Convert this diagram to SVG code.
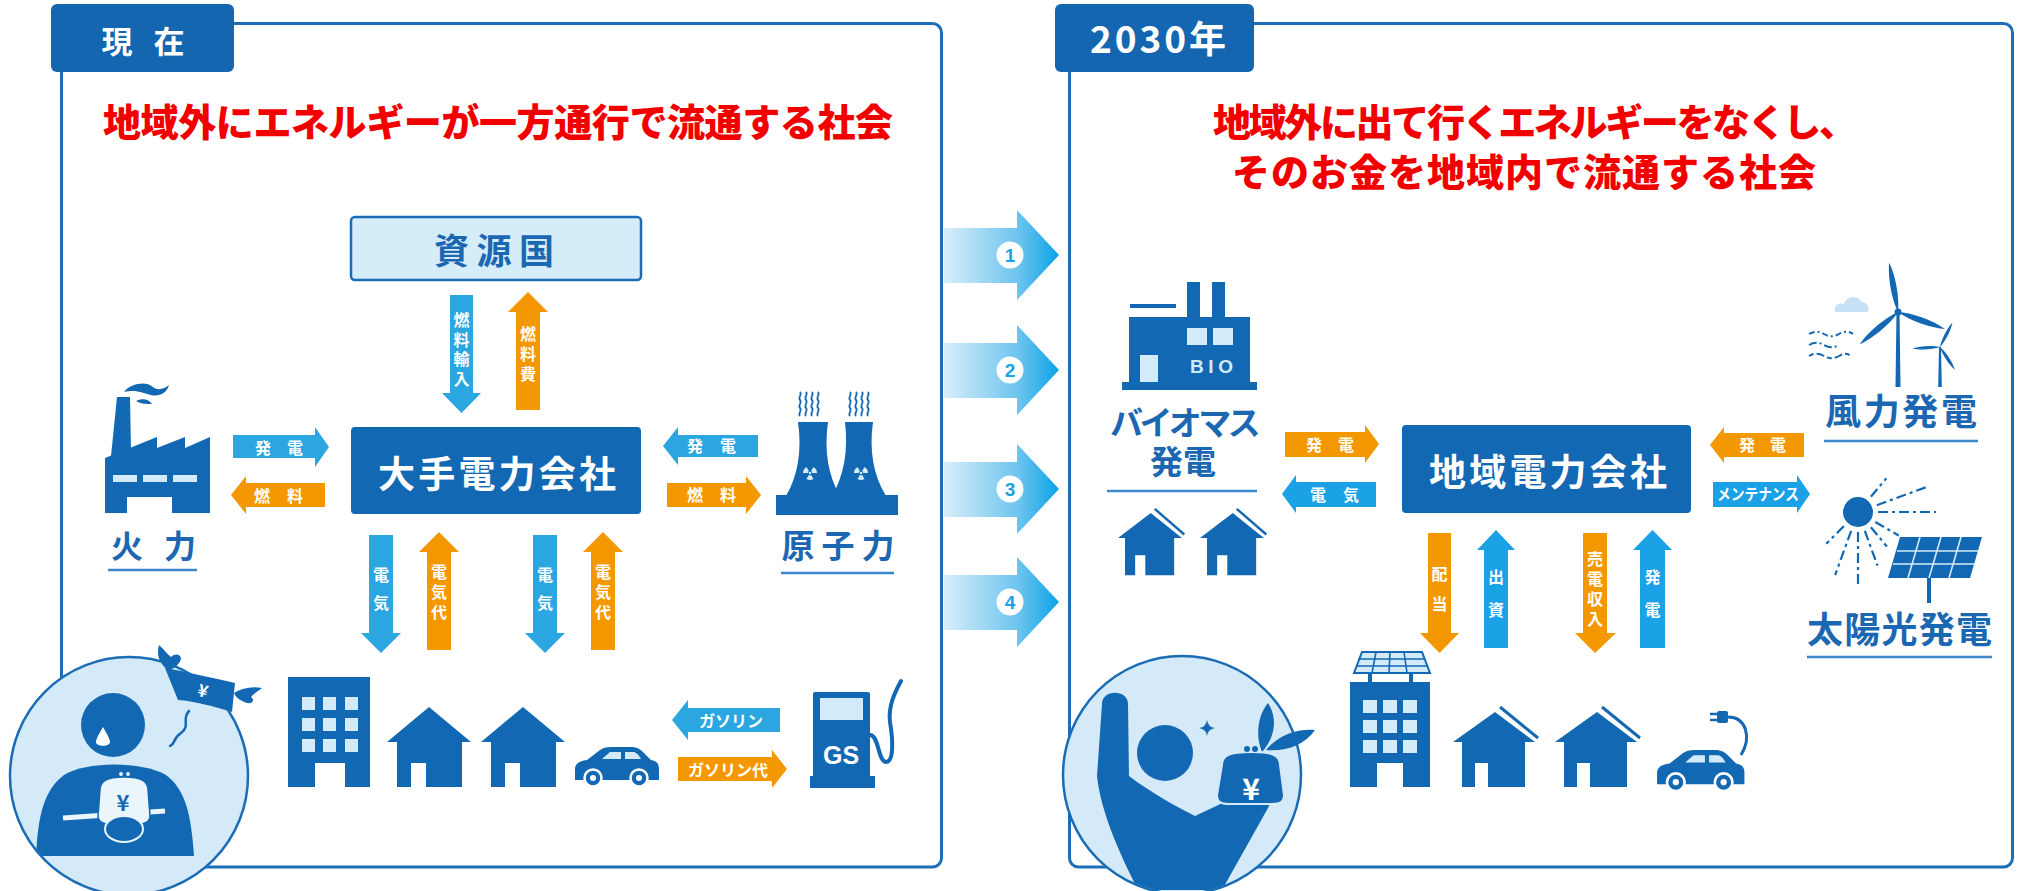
<svg xmlns="http://www.w3.org/2000/svg" xmlns:xlink="http://www.w3.org/1999/xlink" width="2022" height="891" viewBox="0 0 2022 891">
<defs>
<style>
.dk{fill:#1368b3}
.lt{fill:#d3eaf8}
.ab{fill:#2ba6e1}
.ab2{fill:#1aa1e6}
.ao{fill:#f39800}
.wt{fill:#fff;font-family:"Noto Sans CJK JP",sans-serif;font-weight:700;font-size:16px}
.vt{writing-mode:vertical-rl}
.lbl{fill:#1b67b2;font-family:"Noto Sans CJK JP",sans-serif;font-weight:700}
.box{fill:#fff;font-family:"Noto Sans CJK JP",sans-serif;font-weight:700}
.ttl{fill:#f20000;font-family:"Noto Sans CJK JP",sans-serif;font-weight:900;font-size:38px}
.ul{stroke:#3a87c9;stroke-width:2.5}
.panel{fill:none;stroke:#1d6eb8;stroke-width:3}
.tab{fill:#1466b0}
.ray{stroke:#1368b3;stroke-width:2.2;fill:none;stroke-dasharray:10 4 3 4}
.steam{stroke:#1368b3;stroke-width:1.8;fill:none}
.num{fill:#1aa1e6;font-family:"Liberation Sans",sans-serif;font-weight:700;font-size:19px}
</style>
<linearGradient id="chev" gradientUnits="userSpaceOnUse" x1="944" y1="0" x2="1059" y2="0">
<stop offset="0" stop-color="#d9eefa"/>
<stop offset="0.65" stop-color="#6cc4ee"/>
<stop offset="1" stop-color="#0aa2e8"/>
</linearGradient>
<g id="trefoil" fill="#d3eaf8">
<path d="M-2.2,0 L-7,0 A7,7 0 0 1 -3.5,-6.06 L-1.1,-1.9 A2.2,2.2 0 0 0 -2.2,0 Z"/>
<path d="M1.1,-1.9 L3.5,-6.06 A7,7 0 0 1 7,0 L2.2,0 A2.2,2.2 0 0 0 1.1,-1.9 Z"/>
<path d="M1.1,1.9 L3.5,6.06 A7,7 0 0 1 -3.5,6.06 L-1.1,1.9 A2.2,2.2 0 0 0 1.1,1.9 Z"/>
<circle r="1.3"/>
</g>
<path id="houseA" class="dk" d="M0,35 L42,0 L84,35 H75 V80 H39 V56 H24 V80 H10 V35 Z"/>
<g id="houseB">
<path class="dk" d="M0,30 L42,0 L82,30 H72 V75 H35 V51 H22 V75 H9 V30 Z"/>
<path d="M47,-5 L85,26" stroke="#1368b3" stroke-width="3"/>
</g>
<g id="car">
<path class="dk" d="M2,33 V22 C2,17 6,14 14,13 L27,3 C30,1 33,0 38,0 H58 C64,0 67,2 71,6 L78,13 C84,14 86,17 86,22 V33 Z"/>
<path class="lt" d="M29,12 L37,5 H48 V12 Z M52,5 H60 C63,5 65,7 68,12 H52 Z"/>
<circle class="dk" cx="20" cy="31" r="8.5" stroke="#fff" stroke-width="2.5"/>
<circle class="dk" cx="66" cy="31" r="8.5" stroke="#fff" stroke-width="2.5"/>
<circle fill="#fff" cx="20" cy="31" r="3"/>
<circle fill="#fff" cx="66" cy="31" r="3"/>
</g>
<path id="blade" class="dk" d="M0,0 C-4,-12 -5,-35 -1,-50 C3,-38 4,-15 0,0 Z"/>
<clipPath id="clipR"><circle cx="1182" cy="775" r="118"/></clipPath>
<clipPath id="clipL"><circle cx="129" cy="776" r="118"/></clipPath>
</defs>

<rect width="2022" height="891" fill="#fff"/>

<!-- left panel: current state -->
<g id="panel-now">
<rect class="panel" x="61.5" y="23.5" width="880" height="843.5" rx="9"/>
<rect class="tab" x="51" y="4" width="183" height="68" rx="6"/>
<text class="box" font-size="31"><tspan x="117" y="53" text-anchor="middle">現</tspan><tspan x="169" y="53" text-anchor="middle">在</tspan></text>
<text class="ttl" x="103" y="135.5" textLength="790">地域外にエネルギーが一方通行で流通する社会</text>
</g>

<!-- right panel: 2030 -->
<g id="panel-2030">
<rect class="panel" x="1069.5" y="23.5" width="943" height="843.5" rx="9"/>
<rect class="tab" x="1055" y="4" width="199" height="68" rx="6"/>
<text class="box" font-size="37" x="1090" y="53" textLength="136">2030年</text>
<text class="ttl" x="1213" y="135.5" textLength="644">地域外に出て行くエネルギーをなくし、</text>
<text class="ttl" x="1232" y="185.5" textLength="584">そのお金を地域内で流通する社会</text>
</g>

<!-- numbered steps between panels -->
<g id="steps">
<path fill="url(#chev)" d="M944,228 H1017 V210 L1059,255 L1017,300 V283 H944 Z"/>
<path fill="url(#chev)" d="M944,343 H1017 V325 L1059,370 L1017,415 V398 H944 Z"/>
<path fill="url(#chev)" d="M944,462 H1017 V444 L1059,489 L1017,534 V517 H944 Z"/>
<path fill="url(#chev)" d="M944,575 H1017 V557 L1059,602 L1017,647 V630 H944 Z"/>
<circle cx="1010" cy="255" r="13.5" fill="#fff"/><text class="num" x="1010" y="262" text-anchor="middle">1</text>
<circle cx="1010" cy="370" r="13.5" fill="#fff"/><text class="num" x="1010" y="377" text-anchor="middle">2</text>
<circle cx="1010" cy="489" r="13.5" fill="#fff"/><text class="num" x="1010" y="496" text-anchor="middle">3</text>
<circle cx="1010" cy="602" r="13.5" fill="#fff"/><text class="num" x="1010" y="609" text-anchor="middle">4</text>
</g>

<!-- nodes: left panel -->
<g id="resource-country">
<rect x="351" y="217" width="290" height="63" rx="4" fill="#d5ecf9" stroke="#1a6db5" stroke-width="2.5"/>
<text class="lbl" font-size="35" x="434" y="264" textLength="120">資源国</text>
</g>

<g id="major-utility">
<rect class="dk" x="351" y="427" width="290" height="87" rx="4"/>
<text class="box" font-size="37" x="378" y="488" textLength="238">大手電力会社</text>
</g>

<g id="thermal">
<path class="dk" d="M111,456 L117,397 H130 L131,452 Z"/>
<path class="dk" d="M124,392 C131,383 146,381 153,387 C158,391 164,389 169,385 C167,393 159,397 151,395 C143,393 136,389 124,392 Z"/>
<path class="dk" d="M136,401 C142,398 149,399 152,404 C146,404 141,404 136,401 Z"/>
<path class="dk" d="M105,513 V458 L157,437 V448 L185,437 V448 L210,437 V513 Z"/>
<rect fill="#fff" x="127" y="497" width="45" height="17"/>
<rect class="lt" x="113" y="475" width="24" height="7"/>
<rect class="lt" x="143" y="475" width="24" height="7"/>
<rect class="lt" x="173" y="475" width="24" height="7"/>
<text class="lbl" font-size="32"><tspan x="127" y="558" text-anchor="middle">火</tspan><tspan x="180" y="558" text-anchor="middle">力</tspan></text>
<line class="ul" x1="108" y1="570" x2="197" y2="570"/>
</g>

<g id="nuclear">
<path class="steam" d="M800,416 c-2.5,-2.5 2.5,-5.5 0,-8 s2.5,-5.5 0,-8 s2.5,-5.5 0,-8"/>
<path class="steam" d="M806,416 c-2.5,-2.5 2.5,-5.5 0,-8 s2.5,-5.5 0,-8 s2.5,-5.5 0,-8"/>
<path class="steam" d="M812,416 c-2.5,-2.5 2.5,-5.5 0,-8 s2.5,-5.5 0,-8 s2.5,-5.5 0,-8"/>
<path class="steam" d="M818,416 c-2.5,-2.5 2.5,-5.5 0,-8 s2.5,-5.5 0,-8 s2.5,-5.5 0,-8"/>
<path class="steam" d="M850,416 c-2.5,-2.5 2.5,-5.5 0,-8 s2.5,-5.5 0,-8 s2.5,-5.5 0,-8"/>
<path class="steam" d="M856,416 c-2.5,-2.5 2.5,-5.5 0,-8 s2.5,-5.5 0,-8 s2.5,-5.5 0,-8"/>
<path class="steam" d="M862,416 c-2.5,-2.5 2.5,-5.5 0,-8 s2.5,-5.5 0,-8 s2.5,-5.5 0,-8"/>
<path class="steam" d="M868,416 c-2.5,-2.5 2.5,-5.5 0,-8 s2.5,-5.5 0,-8 s2.5,-5.5 0,-8"/>
<path class="dk" d="M798,422 H828 Q822,465 840,496 H786 Q804,465 798,422 Z"/>
<path class="dk" d="M845,422 H873 Q867,465 886,496 H832 Q850,465 845,422 Z"/>
<rect class="dk" x="776" y="495" width="122" height="20"/>
<use xlink:href="#trefoil" x="810" y="473"/>
<use xlink:href="#trefoil" x="861" y="473"/>
<text class="lbl" font-size="33"><tspan x="798" y="558" text-anchor="middle">原</tspan><tspan x="838" y="558" text-anchor="middle">子</tspan><tspan x="878" y="558" text-anchor="middle">力</tspan></text>
<line class="ul" x1="781" y1="573" x2="894" y2="573"/>
</g>

<g id="consumers-now">
<rect class="dk" x="288" y="677" width="82" height="110"/>
<rect class="lt" x="302" y="697" width="13" height="13"/><rect class="lt" x="323" y="697" width="13" height="13"/><rect class="lt" x="345" y="697" width="13" height="13"/>
<rect class="lt" x="302" y="718" width="13" height="13"/><rect class="lt" x="323" y="718" width="13" height="13"/><rect class="lt" x="345" y="718" width="13" height="13"/>
<rect class="lt" x="302" y="739" width="13" height="13"/><rect class="lt" x="323" y="739" width="13" height="13"/><rect class="lt" x="345" y="739" width="13" height="13"/>
<rect fill="#fff" x="315" y="763" width="30" height="25"/>
<use xlink:href="#houseA" transform="translate(387,707)"/>
<use xlink:href="#houseA" transform="translate(481,707)"/>
<use xlink:href="#car" transform="translate(573,747)"/>
</g>

<g id="gas-station">
<rect class="dk" x="813" y="692" width="57" height="86" rx="2"/>
<rect class="dk" x="810" y="776" width="65" height="12"/>
<rect class="lt" x="820" y="698" width="43" height="22"/>
<text fill="#fff" font-family="Liberation Sans, sans-serif" font-weight="700" font-size="25" x="841" y="764" text-anchor="middle">GS</text>
<path d="M870,735 C879,735 878,762 886,762 C894,762 893,740 890,722 C888,706 895,692 901,681" fill="none" stroke="#1368b3" stroke-width="4" stroke-linecap="round"/>
</g>

<g id="household-now">
<circle cx="129" cy="776" r="119" fill="#d4eaf8" stroke="#1a6db5" stroke-width="2.5"/>
<g clip-path="url(#clipL)">
<path class="dk" d="M36,856 C38,815 44,790 64,775 C86,761 142,761 166,775 C186,790 191,815 194,856 Z"/>
</g>
<circle class="dk" cx="113" cy="725" r="32"/>
<path fill="#fff" d="M103,727 C99,734 96,739 96,742 C96,747 110,747 110,742 C110,739 107,734 103,727 Z"/>
<line x1="63" y1="818" x2="165" y2="811" stroke="#eaf5fc" stroke-width="5"/>
<path fill="#eaf5fc" stroke="#1368b3" stroke-width="1.5" d="M100,790 C100,781 107,777 124,777 C141,777 148,781 148,790 L150,816 C150,822 146,824 139,824 H109 C102,824 98,822 98,816 Z"/>
<circle fill="#eaf5fc" stroke="#1368b3" stroke-width="1.2" cx="121" cy="774" r="2.5"/>
<circle fill="#eaf5fc" stroke="#1368b3" stroke-width="1.2" cx="128" cy="774" r="2.5"/>
<text class="lbl" font-size="22" x="123" y="811" text-anchor="middle" fill="#1368b3">¥</text>
<ellipse class="dk" cx="124" cy="829" rx="19" ry="13" stroke="#eaf5fc" stroke-width="2"/>
<path d="M189,711 C181,719 191,726 181,733 C172,739 177,742 170,746" fill="none" stroke="#1368b3" stroke-width="2.5" stroke-linecap="round"/>
<path class="dk" d="M165,668 C188,672 212,678 235,683 L232,712 C212,706 194,701 178,700 Z"/>
<path class="dk" d="M168,670 C160,664 156,656 159,645 C164,649 167,654 171,657 C175,653 181,654 181,659 C179,665 174,669 168,670 Z"/>
<path class="dk" d="M234,693 C242,688 252,686 262,688 C257,692 253,694 251,697 C255,700 253,704 247,703 C241,701 236,698 234,693 Z"/>
<text fill="#fff" font-family="Noto Sans CJK JP, sans-serif" font-weight="700" font-size="17" x="203" y="697" text-anchor="middle" transform="rotate(15 203 691)">¥</text>
</g>

<!-- nodes: right panel -->
<g id="local-utility">
<rect class="dk" x="1402" y="425" width="289" height="88" rx="4"/>
<text class="box" font-size="37" x="1429" y="486" textLength="238">地域電力会社</text>
</g>

<g id="biomass">
<rect class="dk" x="1187" y="282" width="13" height="36"/>
<rect class="dk" x="1212" y="282" width="13" height="36"/>
<rect class="dk" x="1130" y="304" width="46" height="4"/>
<rect class="dk" x="1129" y="317" width="121" height="66"/>
<rect class="dk" x="1122" y="382" width="135" height="8"/>
<rect class="lt" x="1187" y="328" width="20" height="17"/>
<rect class="lt" x="1213" y="328" width="20" height="17"/>
<rect class="lt" x="1140" y="355" width="18" height="27"/>
<text fill="#d3eaf8" font-family="Liberation Sans, sans-serif" font-weight="700" font-size="19" x="1190" y="373" textLength="43">BIO</text>
<text class="lbl" font-size="33"><tspan x="1110" y="435" letter-spacing="-3.6">バイオマス</tspan><tspan x="1183" y="474" text-anchor="middle">発電</tspan></text>
<line class="ul" x1="1107" y1="491" x2="1257" y2="491"/>
<use xlink:href="#houseB" transform="translate(1118,513) scale(0.78,0.83)"/>
<use xlink:href="#houseB" transform="translate(1200,513) scale(0.78,0.83)"/>
</g>

<g id="wind">
<path d="M1835,312 C1833,305 1840,302 1844,304 C1846,296 1858,294 1861,302 C1867,302 1870,307 1868,312 Z" fill="#c6e1f5"/>
<path d="M1809,334 c5,-3 10,-3 15,0 s10,3 15,0 s10,-3 14,0" fill="none" stroke="#1368b3" stroke-width="2" stroke-dasharray="6 3 2 3"/>
<path d="M1809,345 c5,-3 10,-3 15,0 s10,3 15,0" fill="none" stroke="#1368b3" stroke-width="2" stroke-dasharray="8 3 2 3"/>
<path d="M1809,356 c5,-3 10,-3 15,0 s10,3 15,0 s8,-3 12,0" fill="none" stroke="#1368b3" stroke-width="2" stroke-dasharray="5 3 8 3"/>
<path class="dk" d="M1896.5,312 L1899.5,312 L1900.5,387 L1895.5,387 Z"/>
<use xlink:href="#blade" transform="translate(1898,312) rotate(-9)"/>
<use xlink:href="#blade" transform="translate(1898,312) rotate(111)"/>
<use xlink:href="#blade" transform="translate(1898,312) rotate(231)"/>
<circle class="dk" cx="1898" cy="312" r="3.5"/>
<path class="dk" d="M1939,347 L1941,347 L1941.8,387 L1938.2,387 Z"/>
<use xlink:href="#blade" transform="translate(1940,347) rotate(28) scale(0.55)"/>
<use xlink:href="#blade" transform="translate(1940,347) rotate(148) scale(0.55)"/>
<use xlink:href="#blade" transform="translate(1940,347) rotate(268) scale(0.55)"/>
<text class="lbl" font-size="36" x="1825" y="425" textLength="152">風力発電</text>
<line class="ul" x1="1824" y1="441" x2="1978" y2="441"/>
</g>

<g id="solar">
<circle class="dk" cx="1858" cy="512" r="15"/>
<line class="ray" x1="1870.9" y1="496.7" x2="1886.3" y2="478.3"/>
<line class="ray" x1="1876.8" y1="505.2" x2="1928.5" y2="486.3"/>
<line class="ray" x1="1878" y1="512" x2="1936" y2="512"/>
<line class="ray" x1="1875.3" y1="522" x2="1898.7" y2="535.5"/>
<line class="ray" x1="1870.9" y1="527.3" x2="1886.9" y2="546.5"/>
<line class="ray" x1="1864.8" y1="530.8" x2="1877.5" y2="565.6"/>
<line class="ray" x1="1858" y1="532" x2="1858" y2="584"/>
<line class="ray" x1="1851.2" y1="530.8" x2="1835.1" y2="575"/>
<line class="ray" x1="1843.9" y1="526.1" x2="1826.2" y2="543.8"/>
<path class="dk" d="M1900,537 H1982 L1970,578 H1888 Z"/>
<path d="M1897,551 H1978 M1893,564 H1974 M1920,537 L1908,578 M1941,537 L1929,578 M1961,537 L1949,578" stroke="#d3eaf8" stroke-width="1.6" fill="none"/>
<rect class="dk" x="1927" y="578" width="4" height="25"/>
<text class="lbl" font-size="36" x="1807" y="643" textLength="185">太陽光発電</text>
<line class="ul" x1="1807" y1="657" x2="1992" y2="657"/>
</g>

<g id="consumers-2030">
<path class="lt" d="M1362,652 H1422 L1430,673 H1354 Z" stroke="#1368b3" stroke-width="2"/>
<path d="M1376,652 L1372,673 M1390,652 L1389,673 M1404,652 L1407,673 M1358,659 H1425 M1356,666 H1428" stroke="#1368b3" stroke-width="1.6" fill="none"/>
<rect class="dk" x="1368" y="673" width="4" height="10"/>
<rect class="dk" x="1409" y="673" width="4" height="10"/>
<rect class="dk" x="1350" y="682" width="80" height="105"/>
<rect class="lt" x="1363" y="700" width="14" height="13"/><rect class="lt" x="1383" y="700" width="14" height="13"/><rect class="lt" x="1403" y="700" width="14" height="13"/>
<rect class="lt" x="1363" y="720" width="14" height="13"/><rect class="lt" x="1383" y="720" width="14" height="13"/><rect class="lt" x="1403" y="720" width="14" height="13"/>
<rect class="lt" x="1363" y="740" width="14" height="13"/><rect class="lt" x="1383" y="740" width="14" height="13"/><rect class="lt" x="1403" y="740" width="14" height="13"/>
<rect fill="#fff" x="1377" y="763" width="26" height="25"/>
<use xlink:href="#houseB" transform="translate(1453,712)"/>
<use xlink:href="#houseB" transform="translate(1555,712)"/>
<use xlink:href="#car" transform="translate(1655,750) scale(1.04)"/>
<path d="M1728,717 C1746,717 1752,737 1741,755" fill="none" stroke="#1368b3" stroke-width="3"/>
<rect class="dk" x="1717" y="711" width="11" height="12" rx="2"/>
<path d="M1710,714 H1718 M1710,720 H1718" stroke="#1368b3" stroke-width="2.5"/>
</g>

<g id="household-2030">
<circle cx="1182" cy="775" r="119" fill="#d4eaf8" stroke="#1a6db5" stroke-width="2.5"/>
<g clip-path="url(#clipR)">
<path class="dk" d="M1102,704 C1102,689 1128,689 1128,704 L1129,776 C1150,792 1175,806 1195,816 L1250,790 C1262,785 1275,796 1268,808 L1222,890 L1138,890 C1118,850 1101,812 1097,776 Z"/>
</g>
<circle class="dk" cx="1165" cy="753" r="28"/>
<path class="dk" d="M1207,720 Q1208,727 1215,728 Q1208,729 1207,736 Q1206,729 1199,728 Q1206,727 1207,720 Z"/>
<path class="dk" d="M1262,752 C1255,735 1258,715 1268,703 C1278,718 1275,738 1262,752 Z"/>
<path class="dk" d="M1266,750 C1278,735 1298,728 1315,730 C1305,745 1285,752 1266,750 Z"/>
<path class="dk" stroke="#d4eaf8" stroke-width="2" d="M1222,765 C1222,755 1230,752 1251,752 C1272,752 1280,755 1280,765 L1284,795 C1284,802 1280,804 1272,804 H1229 C1221,804 1217,802 1217,795 Z"/>
<circle class="dk" cx="1247" cy="749" r="3"/>
<circle class="dk" cx="1255" cy="749" r="3"/>
<text fill="#fff" font-family="Noto Sans CJK JP, sans-serif" font-weight="700" font-size="30" x="1251" y="800" text-anchor="middle">¥</text>
</g>

<!-- connectors -->
<g id="connectors">
<path class="ab" d="M450,295 H473 V393 H481 L461.5,413 L442,393 H450 Z"/>
<text class="wt vt" font-size="15" letter-spacing="3.5" x="461.5" y="312">燃料輸入</text>
<path class="ao" d="M516,410 V312 H508 L528,292 L548,312 H540 V410 Z"/>
<text class="wt vt" letter-spacing="4" x="528" y="326">燃料費</text>

<path class="ab" d="M233,435 H315 V427 L329,447 L315,467 V458 H233 Z"/>
<text class="wt"><tspan x="263" y="454" text-anchor="middle">発</tspan><tspan x="295" y="454" text-anchor="middle">電</tspan></text>
<path class="ao" d="M325,483 H246 V476 L231,495 L246,514 V507 H325 Z"/>
<text class="wt"><tspan x="262" y="502" text-anchor="middle">燃</tspan><tspan x="295" y="502" text-anchor="middle">料</tspan></text>

<path class="ab" d="M758,435 H678 V427 L663,446 L678,465 V457 H758 Z"/>
<text class="wt"><tspan x="695" y="452" text-anchor="middle">発</tspan><tspan x="728" y="452" text-anchor="middle">電</tspan></text>
<path class="ao" d="M667,483 H746 V476 L761,495 L746,514 V507 H667 Z"/>
<text class="wt"><tspan x="695" y="501" text-anchor="middle">燃</tspan><tspan x="728" y="501" text-anchor="middle">料</tspan></text>

<path class="ab" d="M369,535 H393 V633 H401 L381,653 L361,633 H369 Z"/>
<text class="wt vt" font-size="17" letter-spacing="12" x="381" y="567">電気</text>
<path class="ao" d="M427,650 V552 H419 L439,532 L459,552 H451 V650 Z"/>
<text class="wt vt" letter-spacing="4" x="439" y="564">電気代</text>
<path class="ab" d="M533,535 H557 V633 H565 L545,653 L525,633 H533 Z"/>
<text class="wt vt" font-size="17" letter-spacing="12" x="545" y="567">電気</text>
<path class="ao" d="M591,650 V552 H583 L603,532 L623,552 H615 V650 Z"/>
<text class="wt vt" letter-spacing="4" x="603" y="564">電気代</text>

<path class="ab" d="M780,708 H688 V700 L672,720 L688,740 V732 H780 Z"/>
<text class="wt" x="731" y="727" text-anchor="middle">ガソリン</text>
<path class="ao" d="M678,757 H772 V750 L787,769 L772,788 V781 H678 Z"/>
<text class="wt" x="728" y="776" text-anchor="middle">ガソリン代</text>

<path class="ao" d="M1285,432 H1365 V425 L1379,444 L1365,463 V457 H1285 Z"/>
<text class="wt"><tspan x="1314" y="451" text-anchor="middle">発</tspan><tspan x="1346" y="451" text-anchor="middle">電</tspan></text>
<path class="ab2" d="M1376,482 H1296 V475 L1282,494 L1296,513 V507 H1376 Z"/>
<text class="wt"><tspan x="1318" y="501" text-anchor="middle">電</tspan><tspan x="1351" y="501" text-anchor="middle">気</tspan></text>
<path class="ao" d="M1804,433 H1724 V427 L1710,445 L1724,463 V457 H1804 Z"/>
<text class="wt"><tspan x="1747" y="451" text-anchor="middle">発</tspan><tspan x="1778" y="451" text-anchor="middle">電</tspan></text>
<path class="ab2" d="M1713,482 H1797 V475 L1810,494 L1797,513 V507 H1713 Z"/>
<text class="wt" font-size="15" x="1717" y="500" textLength="82" lengthAdjust="spacingAndGlyphs">メンテナンス</text>

<path class="ao" d="M1428,533 H1451 V633 H1459 L1439.5,653 L1420,633 H1428 Z"/>
<text class="wt vt" letter-spacing="14" x="1439.5" y="566">配当</text>
<path class="ab2" d="M1484,648 V550 H1477 L1496,530 L1515,550 H1508 V648 Z"/>
<text class="wt vt" letter-spacing="17" x="1496" y="569">出資</text>
<path class="ao" d="M1583,533 H1607 V633 H1616 L1595,653 L1575,633 H1583 Z"/>
<text class="wt vt" letter-spacing="4" x="1595" y="551">売電収入</text>
<path class="ab2" d="M1640,648 V550 H1633 L1652.5,530 L1672,550 H1665 V648 Z"/>
<text class="wt vt" letter-spacing="17" x="1652.5" y="569">発電</text>
</g>
</svg>
